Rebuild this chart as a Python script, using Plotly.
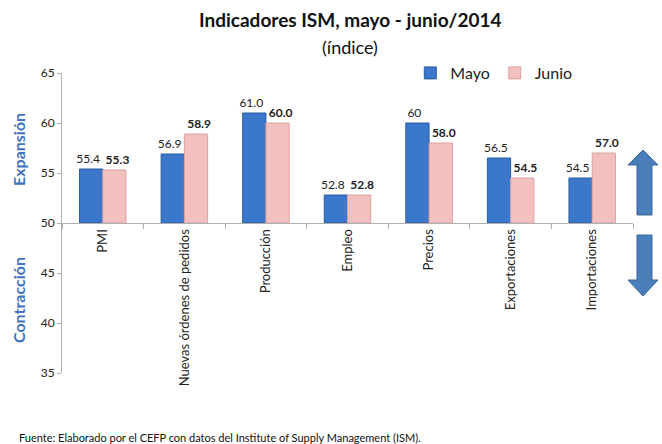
import plotly.graph_objects as go

categorias = ["PMI", "Nuevas órdenes de pedidos", "Producción", "Empleo",
              "Precios", "Exportaciones", "Importaciones"]
mayo = [55.4, 56.9, 61.0, 52.8, 60.0, 56.5, 54.5]
junio = [55.3, 58.9, 60.0, 52.8, 58.0, 54.5, 57.0]
mayo_txt = ["55.4", "56.9", "61.0", "52.8", "60", "56.5", "54.5"]
junio_txt = ["55.3", "58.9", "60.0", "52.8", "58.0", "54.5", "57.0"]
base = 50
y_ticks = [35, 40, 45, 50, 55, 60, 65]

FONT = "Lato"
W, H = 662, 444
L, R, T, B = 62, 29, 73, 71
PAD = "\u00a0\u00a0"  # nudges the two labels of a pair apart


def px2paper(x, y):
    return (x - L) / (W - L - R), (H - B - y) / (H - T - B)


def arrow_path(pts):
    s = ""
    for i, (x, y) in enumerate(pts):
        px, py = px2paper(x, y)
        s += ("M" if i == 0 else "L") + f"{px:.4f},{py:.4f} "
    return s + "Z"


fig = go.Figure()
fig.add_trace(go.Bar(
    x=categorias, y=[v - base for v in mayo], base=base, name="Mayo",
    marker=dict(color="#3b78cc", line=dict(color="#2c5c9e", width=1)),
    text=[t + PAD for t in mayo_txt], textposition="outside",
    cliponaxis=False, constraintext="none",
    textfont=dict(family=FONT, size=12, color="#222"),
))
fig.add_trace(go.Bar(
    x=categorias, y=[v - base for v in junio], base=base, name="Junio",
    marker=dict(color="#f3c0c0", line=dict(color="#dca2a2", width=1)),
    text=[PAD + f"<b>{t}</b>" for t in junio_txt], textposition="outside",
    cliponaxis=False, constraintext="none",
    textfont=dict(family=FONT, size=12, color="#222"),
))

up = [(637, 215), (637, 165), (628, 165), (643, 150), (658, 165), (652, 165), (652, 215)]
down = [(637, 235), (637, 280), (628, 280), (643, 296), (658, 280), (652, 280), (652, 235)]
shapes = [dict(type="path", xref="paper", yref="paper", path=arrow_path(p),
               fillcolor="#4a7ebb", line=dict(color="#3a6699", width=1))
          for p in (up, down)]

fx, fy = px2paper(17, 437)
ex, ey = px2paper(18, 150)
cx, cy = px2paper(18, 300)
tx, ty = px2paper(350, 19)
sx, sy = px2paper(350, 47)

fig.update_layout(
    width=W, height=H,
    margin=dict(l=L, r=R, t=T, b=B, autoexpand=False),
    paper_bgcolor="white", plot_bgcolor="white",
    font=dict(family=FONT, size=12, color="#222"),
    barmode="group", bargap=0.43, bargroupgap=0.0,
    showlegend=True,
    legend=dict(orientation="h", x=0.61, y=px2paper(0, 73)[1], xanchor="left",
                yanchor="middle", font=dict(family=FONT, size=16),
                itemwidth=30, tracegroupgap=0),
    xaxis=dict(anchor="free", position=0.5, showline=True, linecolor="#b0b0b0",
               ticks="outside", tickson="boundaries", ticklen=5,
               tickcolor="#b0b0b0", tickangle=-90,
               tickfont=dict(family=FONT, size=13, color="#222"),
               showgrid=False),
    yaxis=dict(range=[35, 65], tickvals=y_ticks, showline=True,
               linecolor="#b0b0b0", ticks="outside", ticklen=4,
               tickcolor="#b0b0b0", showgrid=False, zeroline=False,
               tickfont=dict(family=FONT, size=12, color="#222")),
    shapes=shapes,
    annotations=[
        dict(text="<b>Indicadores ISM, mayo - junio/2014</b>", x=tx, y=ty,
             xref="paper", yref="paper", showarrow=False,
             xanchor="center", yanchor="middle",
             font=dict(family=FONT, size=19, color="#111")),
        dict(text="(índice)", x=sx, y=sy, xref="paper", yref="paper",
             xanchor="center", yanchor="middle",
             showarrow=False, font=dict(family=FONT, size=18, color="#111")),
        dict(text="<b>Expansión</b>", x=ex, y=ey, xref="paper", yref="paper",
             xanchor="center", yanchor="middle",
             showarrow=False, textangle=-90,
             font=dict(family=FONT, size=16, color="#3f72c0")),
        dict(text="<b>Contracción</b>", x=cx, y=cy, xref="paper", yref="paper",
             xanchor="center", yanchor="middle",
             showarrow=False, textangle=-90,
             font=dict(family=FONT, size=16, color="#3f72c0")),
        dict(text="Fuente: Elaborado por el CEFP con datos del Institute of "
                  "Supply Management (ISM).",
             x=fx, y=fy, xref="paper", yref="paper", xanchor="left",
             yanchor="middle",
             showarrow=False, font=dict(family=FONT, size=11, color="#111")),
    ],
)

# the page's default body margin would shift the figure by 8px
fig.write_html("out.html", config={"displayModeBar": False},
               post_script="document.body.style.margin='0';")
